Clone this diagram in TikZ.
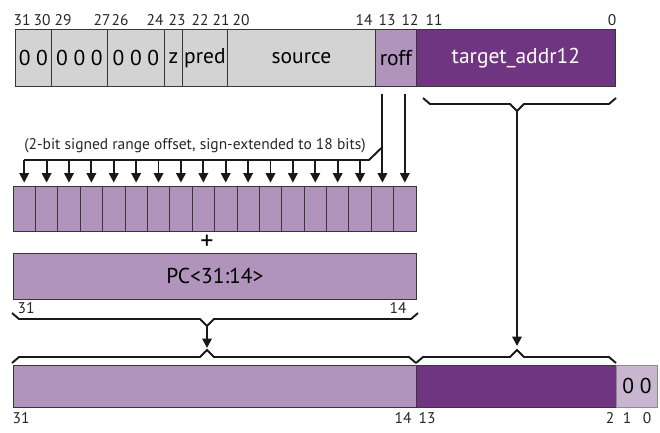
\documentclass[tikz,border=0pt]{standalone}
\usepackage{fontspec}
\setmainfont{PT Sans}
\usepackage{tikz}
\usetikzlibrary{arrows.meta}
\usepackage{xcolor}
\definecolor{regray}{RGB}{211,211,211}
\definecolor{lilac}{RGB}{176,148,187}
\definecolor{plum}{RGB}{111,53,128}
\definecolor{palelilac}{RGB}{200,182,208}
\definecolor{edgegray}{RGB}{55,55,55}
\newcommand{\fieldfont}{\fontsize{21.5}{23}\selectfont}
\newcommand{\bitfont}{\fontsize{15.5}{17}\selectfont}
% angular brace: x left, x tip, x right, y of the bar, tip direction (1 down, -1 up), tip name
\newcommand{\sqbrace}[6]{%
  \draw[brk] (#1,{#4-6*#5}) -- ({#1+7},#4) -- ({#2-7},#4) -- (#2,{#4+7*#5}) coordinate (#6)
    -- ({#2+7},#4) -- ({#3-7},#4) -- (#3,{#4-6*#5});}

\begin{document}
\begin{tikzpicture}[x=1pt, y=-1pt,
    fld/.style={draw=edgegray, line width=0.8pt, inner sep=0pt, anchor=north west, font=\fieldfont},
    bitlbl/.style={font=\bitfont, inner sep=0pt, text=black!85},
    brk/.style={line width=1.9pt, black!90},
    arr/.style={line width=1.9pt, black!90, -{Triangle[width=9.5pt,length=9.5pt]}}]
    \useasboundingbox (0,0) rectangle (660,432);

    % ── Instruction word ─────────────────────────────────────────────────────
    \foreach \n/\xl/\xr/\t in {f31/15/51/0 0, f29/51/107/0 0 0, f26/107/164/0 0 0,
                               fz/164/182/z, fpred/182/227/pred, fsrc/227/375/source} {
      \node[fld, fill=regray, minimum width={(\xr-\xl)*1pt}, minimum height=57pt] (\n) at (\xl,29) {\t};
    }
    \node[fld, fill=lilac, minimum width=41pt, minimum height=57pt] (froff) at (375,29) {roff};
    \node[fld, fill=plum, text=white, minimum width=199pt, minimum height=57pt] (ftgt) at (416,29) {target\_addr12};
    \foreach \x/\b in {22/31, 42/30, 63/29, 102/27, 120/26, 155/24, 177/23, 200/22,
                       221/21, 241/20, 364/14, 387/13, 410/12, 434/11, 612/0} {
      \node[bitlbl] (top\b) at (\x,20) {\b};
    }

    % ── Sign-extended offset ─────────────────────────────────────────────────
    \foreach \k in {1,...,18} {
      \node[fld, anchor=center, fill=lilac, minimum width=22.39pt, minimum height=45pt] (b\k)
        at ({13+(\k-0.5)*22.39},208.5) {};
    }
    \node[bitlbl] (note) at (195,146) {(2-bit signed range offset, sign-extended to 18 bits)};
    \draw[arr, shorten <=7pt, shorten >=3pt] (b17.north |- froff.south) -- (b17.north);
    \draw[arr, shorten <=7pt, shorten >=3pt] (b18.north |- froff.south) -- (b18.north);
    \coordinate (sxtop) at (382.4,147);
    \coordinate (sxbend) at (369,160);
    \draw[brk, line join=round] (sxtop) -- (sxbend) -- (b1.north |- sxbend);
    \foreach \k in {1,...,16} {
      \draw[arr, shorten >=3pt] (b\k.north |- sxbend) -- (b\k.north);
    }

    % ── PC high bits ─────────────────────────────────────────────────────────
    \node[font=\fontsize{26}{28}\selectfont, inner sep=0pt] (plus) at (207,242) {+};
    \node[fld, fill=lilac, minimum width=403pt, minimum height=46pt] (pc) at (13,253) {PC<31:14>};
    \node[bitlbl] (pc31) at (26,308) {31};
    \node[bitlbl] (pc14) at (398,308) {14};

    % ── Braces and arrows ────────────────────────────────────────────────────
    \sqbrace{423}{517}{616}{104}{1}{tgttip}
    \sqbrace{12}{207}{418}{319}{1}{pctip}
    \sqbrace{12}{207}{416}{357}{-1}{lotip}
    \sqbrace{416}{517}{616}{357}{-1}{hitip}
    \draw[arr, shorten >=2pt] (pctip) -- (lotip);
    \draw[arr, shorten >=4pt] (tgttip) -- (hitip);

    % ── Branch target ────────────────────────────────────────────────────────
    \node[fld, fill=lilac, draw=edgegray, minimum width=403pt, minimum height=42pt] (lo) at (13,365) {};
    \node[fld, fill=plum, minimum width=200pt, minimum height=42pt] (hi) at (416,365) {};
    \node[fld, fill=palelilac, draw=black!45, minimum width=41pt, minimum height=42pt] (zz) at (616,365) {0 0};
    \foreach \x/\b in {21/31, 403/14, 427/13, 610/2, 627/1, 647/0} {
      \node[bitlbl] (bot\b) at (\x,418) {\b};
    }
  \end{tikzpicture}
\end{document}
